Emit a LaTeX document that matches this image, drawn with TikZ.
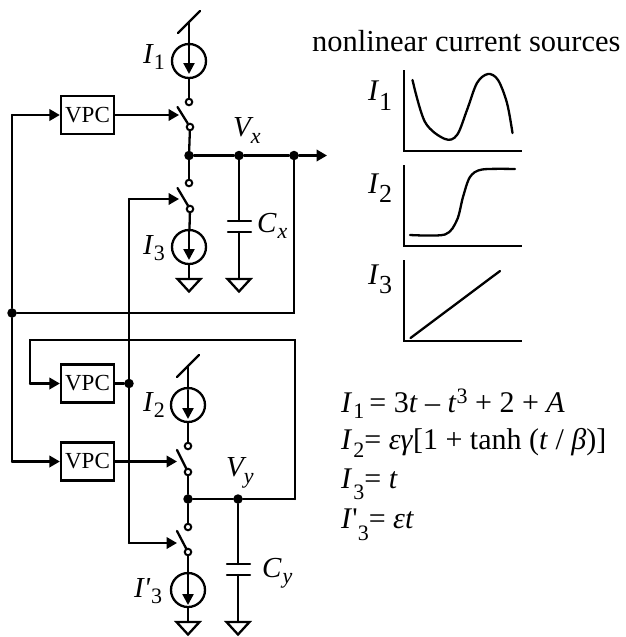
\documentclass[tikz,border=0pt]{standalone}
\usepackage{fontspec}
\setmainfont[Ligatures=TeXOff]{Liberation Serif}
\usetikzlibrary{arrows.meta,calc}
\newcommand{\fz}[1]{\fontsize{#1pt}{#1pt}\selectfont}
\newcommand{\lowsub}[3]{\raisebox{-#1pt}{\fz{#2}#3}}
\tikzset{
  x=1pt,y=-1pt,
  wire/.style={line width=2.3pt,line cap=round,line join=miter},
  arr/.style={wire,-{Triangle[length=10.5pt,width=11.5pt]}},
  inarr/.style={wire,-{Triangle[length=11pt,width=11pt]}},
  dot/.style={circle,fill=black,inner sep=0pt,minimum size=9.5pt},
  term/.style={circle,draw=black,line width=2pt,fill=white,inner sep=0pt,minimum size=6.5pt},
  vpc/.style={draw=black,line width=2.3pt,inner sep=0pt,minimum width=53pt,minimum height=38pt,font=\fz{23}},
  src/.style={circle,draw=black,line width=2.3pt,inner sep=0pt,minimum size=34pt},
  gnd/.style={wire,line join=miter},
  lab/.style={anchor=base west,inner sep=0pt,font=\fz{29}\itshape},
  eqn/.style={anchor=base west,inner sep=0pt,font=\fz{30}},
  curve/.style={line width=2.3pt,line cap=round,line join=round},
}
\begin{document}
\begin{tikzpicture}
\useasboundingbox (0,0) rectangle (626,637);
% upper half nodes
\coordinate (sup1) at (189,22);
\node[src] (s1) at (189,61) {};
\node[term] (t1a) at (189,102) {};
\node[term] (t1b) at (190,127) {};
\node[dot] (nx) at (189,155.5) {};
\node[term] (t3a) at (189,183) {};
\node[term] (t3b) at (190,209) {};
\node[src] (s3) at (189,247) {};
\coordinate (g3) at (189,279);
\coordinate (swa) at (177.5,107);
\coordinate (swa2) at (179,115);
\coordinate (swb) at (177.5,188);
\coordinate (swb2) at (179,199);
\node[dot] (vx) at (239,155.5) {};
\node[dot] (fx) at (294,155.5) {};
\coordinate (out) at (327,155.5);
\coordinate (cx1) at (239,221);
\coordinate (cx2) at (239,232);
\coordinate (gx) at (239,279);
\node[vpc] (v1) at (87.5,115) {VPC};
\node[vpc] (v2) at (87.5,383.5) {VPC};
\node[vpc] (v3) at (87.5,461.5) {VPC};
\node[dot] (rail) at (12,313) {};
\coordinate (railtop) at (12,115);
\coordinate (railbot) at (12,461.5);
\coordinate (fxb) at (294,313);
\coordinate (bustop) at (129,199);
\node[dot] (busj) at (129,383.5) {};
\coordinate (busbot) at (129,543);
% lower half nodes
\coordinate (sup2) at (188,366);
\node[src] (s2) at (188,405) {};
\node[term] (t2a) at (188,446) {};
\node[term] (t2b) at (188,472) {};
\node[dot] (ny) at (188,499) {};
\node[term] (t4a) at (188,527) {};
\node[term] (t4b) at (188,552) {};
\node[src] (s4) at (188,590) {};
\coordinate (g4) at (188,622);
\coordinate (swc) at (177,450);
\coordinate (swc2) at (177,461.5);
\coordinate (swd) at (177,531);
\coordinate (swd2) at (177,543);
\node[dot] (vy) at (238,499) {};
\coordinate (cy1) at (238,564);
\coordinate (cy2) at (238,575);
\coordinate (gy) at (238,622);
\coordinate (ry) at (295,499);
\coordinate (loopr) at (295,340);
\coordinate (loopl) at (30,340);
\coordinate (loopb) at (30,383.5);
% supply ticks
\draw[wire] (178,33) -- (200,11);
\draw[wire] (177,377) -- (199,355);
% upper branch
\draw[wire] (sup1) -- (s1);
\draw[wire] (s1) -- (t1a);
\draw[wire] (t1b) -- (nx);
\draw[wire] (nx) -- (t3a);
\draw[wire] (t3b) -- (s3);
\draw[wire] (s3) -- (g3);
\draw[wire] (swa) -- (t1b);
\draw[wire] (swb) -- (t3b);
\draw[inarr] (189,45) -- (189,74);
\draw[inarr] (189,231) -- (189,260);
\draw[wire] (nx) -- (vx) -- (fx);
\draw[arr] (fx) -- (out);
\draw[wire] (vx) -- (cx1);
\draw[wire] (228,221) -- (251,221);
\draw[wire] (228,232) -- (251,232);
\draw[wire] (cx2) -- (gx);
% lower branch
\draw[wire] (sup2) -- (s2);
\draw[wire] (s2) -- (t2a);
\draw[wire] (t2b) -- (ny);
\draw[wire] (ny) -- (t4a);
\draw[wire] (t4b) -- (s4);
\draw[wire] (s4) -- (g4);
\draw[wire] (swc) -- (t2b);
\draw[wire] (swd) -- (t4b);
\draw[inarr] (188,390) -- (188,419);
\draw[inarr] (188,574) -- (188,605);
\draw[wire] (ny) -- (vy) -- (ry);
\draw[wire] (vy) -- (cy1);
\draw[wire] (227,564) -- (250,564);
\draw[wire] (227,575) -- (250,575);
\draw[wire] (cy2) -- (gy);
% grounds
\foreach \g in {g3,gx,g4,gy}{
  \draw[gnd] ($(\g)+(-11.5,0)$) -- ($(\g)+(11.5,0)$) -- ($(\g)+(0,12.5)$) -- cycle;
}
% control wiring
\draw[wire] (rail) -- (railtop);
\draw[arr] (railtop) -- (v1);
\draw[arr] (v1) -- (swa2);
\draw[wire] (rail) -- (railbot);
\draw[arr] (railbot) -- (v3);
\draw[arr] (v3) -- (swc2);
\draw[wire] (rail) -- (fxb) -- (fx);
\draw[arr] (bustop) -- (swb2);
\draw[wire] (bustop) -- (busj) -- (busbot);
\draw[arr] (busbot) -- (swd2);
\draw[wire] (v2) -- (busj);
\draw[wire] (ry) -- (loopr) -- (loopl) -- (loopb);
\draw[arr] (loopb) -- (v2);
% circuit labels
\node[lab] (li1) at (143,63) {I\kern1pt\lowsub{6}{22}{\upshape 1}};
\node[lab] (li3) at (143,254) {I\kern1pt\lowsub{6}{22}{\upshape 3}};
\node[lab] (li2) at (143,411) {I\kern1pt\lowsub{6}{22}{\upshape 2}};
\node[lab] (li4) at (134,597) {I'\kern1pt\lowsub{6}{22}{\upshape 3}};
\node[lab] (lvx) at (233,136) {V\lowsub{7}{22}{x}};
\node[lab] (lvy) at (226,476) {V\lowsub{7}{22}{y}};
\node[lab] (lcx) at (257,232) {C\kern1pt\lowsub{6}{22}{x}};
\node[lab] (lcy) at (262,577) {C\kern1pt\lowsub{6}{22}{y}};
% plots
\node[anchor=base west,inner sep=0pt,font=\fz{30.5}] (title) at (312,51) {nonlinear current sources};
\draw[wire,line cap=butt] (404,70) -- (404,151) -- (522,151);
\draw[wire,line cap=butt] (404,165) -- (404,246) -- (522,246);
\draw[wire,line cap=butt] (404,260) -- (404,341) -- (522,341);
\draw[curve] plot[smooth,tension=0.55] coordinates {(412.5,80) (425,122) (445,139) (457,135) (467,110) (477,83) (488,74) (498,80) (507,103) (512.5,133)};
\draw[curve] plot[smooth,tension=0.5] coordinates {(410,235) (445,234.5) (457,220) (463,197) (470,177) (482,169.5) (515,169)};
\draw[curve] (410.5,338) -- (500,271);
\node[lab,font=\fz{30}\itshape] (p1) at (368,100) {I\kern1pt\lowsub{10}{26}{\upshape 1}};
\node[lab,font=\fz{30}\itshape] (p2) at (368,193) {I\kern1pt\lowsub{9}{26}{\upshape 2}};
\node[lab,font=\fz{30}\itshape] (p3) at (368,284) {I\kern1pt\lowsub{9}{26}{\upshape 3}};
% equations
\node[eqn] (e1) at (341,412) {\textit{I}\kern1pt\lowsub{6}{22}{1}\,= 3\textit{t} – \textit{t}\raisebox{9pt}{\fz{22}3} + 2 + \textit{A}};
\node[eqn] (e2) at (341,449) {\textit{I}\kern1pt\lowsub{8}{22}{2}= \textit{εγ}[1 + tanh (\textit{t} / \textit{β})]};
\node[eqn] (e3) at (341,488) {\textit{I}\kern1pt\lowsub{11}{22}{3}= \textit{t}};
\node[eqn] (e4) at (341,528) {\textit{I}'\lowsub{12}{22}{3}= \textit{εt}};
\end{tikzpicture}
\end{document}
